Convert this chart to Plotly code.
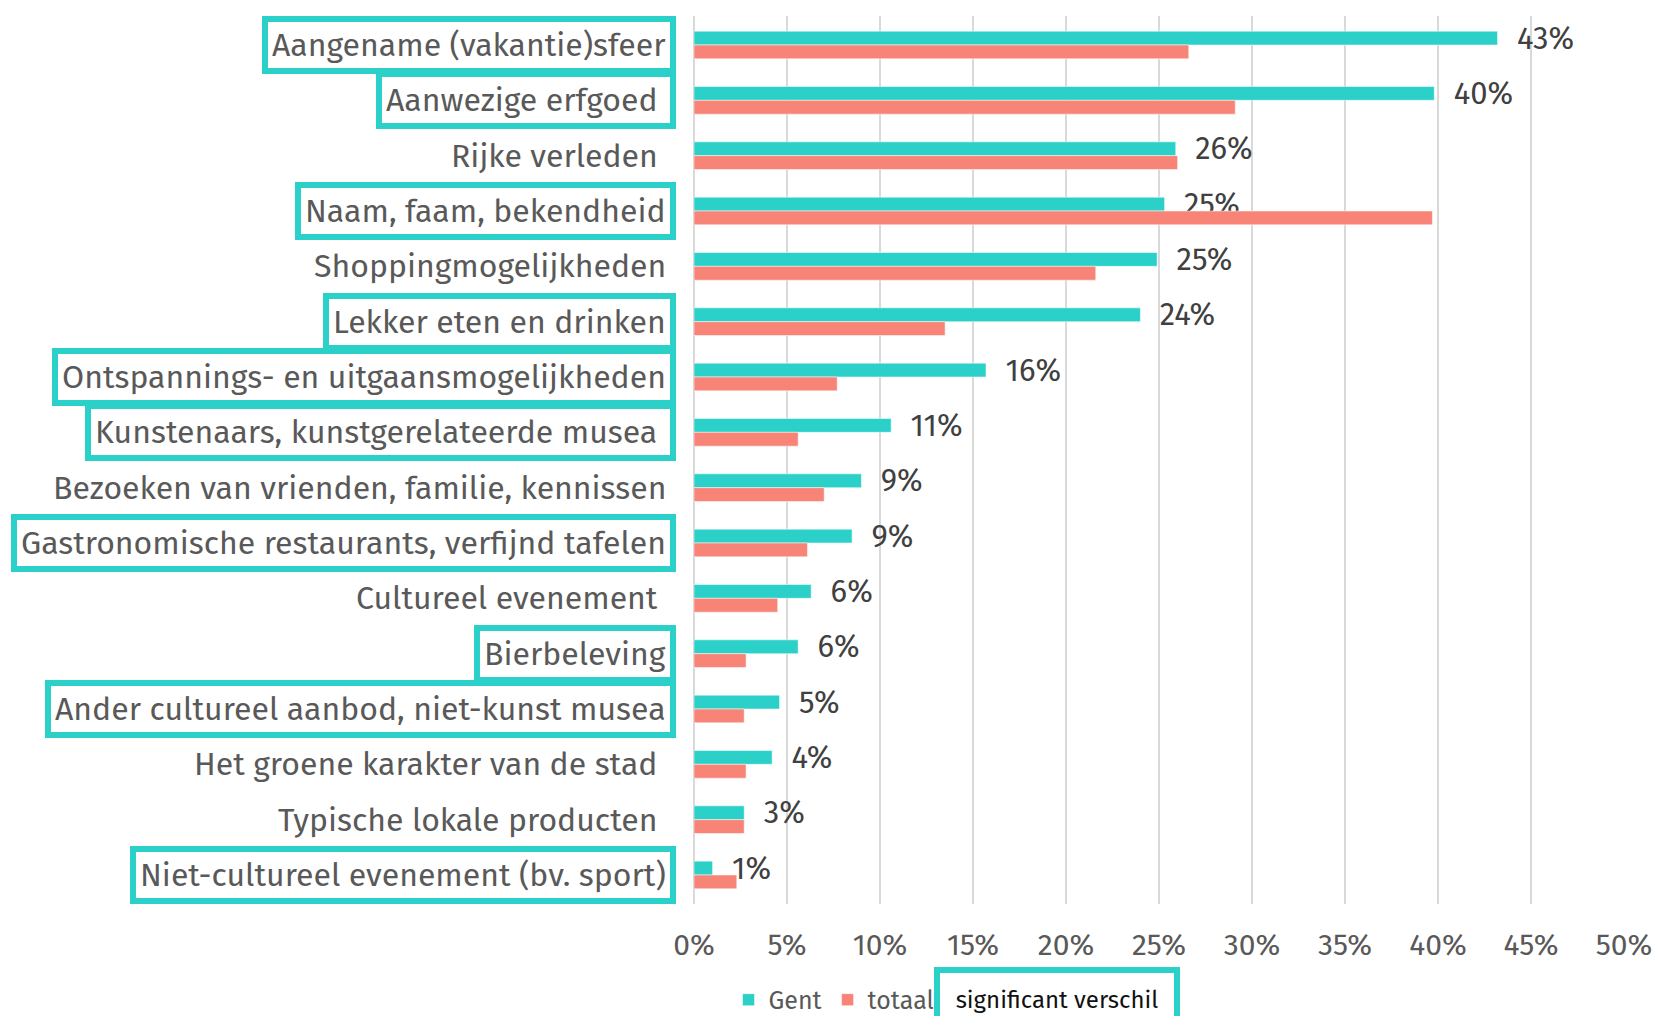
import plotly.graph_objects as go

categories = [
    "Aangename (vakantie)sfeer",
    "Aanwezige erfgoed\u00a0",
    "Rijke verleden\u00a0",
    "Naam, faam, bekendheid",
    "Shoppingmogelijkheden",
    "Lekker eten en drinken",
    "Ontspannings- en uitgaansmogelijkheden",
    "Kunstenaars, kunstgerelateerde musea\u00a0",
    "Bezoeken van vrienden, familie, kennissen",
    "Gastronomische restaurants, verfijnd tafelen",
    "Cultureel evenement\u00a0",
    "Bierbeleving",
    "Ander cultureel aanbod, niet-kunst musea",
    "Het groene karakter van de stad\u00a0",
    "Typische lokale producten\u00a0",
    "Niet-cultureel evenement (bv. sport)",
]
gent = [43.2, 39.8, 25.9, 25.3, 24.9, 24.0, 15.7, 10.6, 9.0, 8.5, 6.3, 5.6, 4.6, 4.2, 2.7, 1.0]
totaal = [26.6, 29.1, 26.0, 39.7, 21.6, 13.5, 7.7, 5.6, 7.0, 6.1, 4.5, 2.8, 2.7, 2.8, 2.7, 2.3]
significant = [True, True, False, True, False, True, True, True, False, True, False, True, True, False, False, True]
x_ticks = [0, 5, 10, 15, 20, 25, 30, 35, 40, 45, 50]
x_tick_labels = ["0%", "5%", "10%", "15%", "20%", "25%", "30%", "35%", "40%", "45%", "50%"]

TEAL = "#2BD1C9"
SALMON = "#F88477"
GRAY = "#595959"
FONT = "Fira Sans, Open Sans, sans-serif"

fig = go.Figure()
fig.add_trace(go.Bar(
    name="Gent", y=categories, x=gent, orientation="h",
    marker=dict(color=TEAL, line=dict(color="rgba(255,255,255,0.5)", width=1)),
    texttemplate="\u00a0\u00a0%{x:.0f}%", textposition="outside",
    textfont=dict(size=31, color="#404040", family=FONT),
    constraintext="none", cliponaxis=False,
))
fig.add_trace(go.Bar(
    name="totaal", y=categories, x=totaal, orientation="h",
    marker=dict(color=SALMON, line=dict(color="rgba(255,255,255,0.5)", width=1)),
))

annotations = []
for cat, sig in zip(categories, significant):
    annotations.append(dict(
        xref="paper", yref="y", x=0, y=cat, xanchor="right", yanchor="middle",
        xshift=-18, text=cat, showarrow=False,
        font=dict(size=32, color=GRAY, family=FONT),
        bordercolor=TEAL if sig else "rgba(0,0,0,0)",
        borderwidth=6, borderpad=4, bgcolor="white" if sig else "rgba(0,0,0,0)",
    ))
annotations.append(dict(
    xref="paper", yref="paper", x=0.258, y=-0.108, xanchor="left", yanchor="middle",
    text="significant verschil", showarrow=False, width=220, height=40, align="center",
    font=dict(size=24, color="#111111", family=FONT),
    bordercolor=TEAL, borderwidth=6, borderpad=7, bgcolor="white",
))

fig.update_layout(
    width=1657, height=1016,
    margin=dict(l=694, r=33, t=16, b=112, autoexpand=False),
    paper_bgcolor="white", plot_bgcolor="white",
    barmode="group", bargap=0.5, bargroupgap=0,
    font=dict(family=FONT, color=GRAY),
    showlegend=True,
    legend=dict(orientation="h", x=0.264, xanchor="right", y=-0.108, yanchor="middle",
                font=dict(size=25, color=GRAY, family=FONT), itemwidth=30,
                traceorder="normal", bgcolor="rgba(0,0,0,0)"),
    annotations=annotations,
)
fig.update_xaxes(range=[0, 50], tickmode="array", tickvals=x_ticks, ticktext=x_tick_labels,
                 showgrid=True, gridcolor="#D9D9D9", gridwidth=1.5,
                 zeroline=True, zerolinecolor="#D9D9D9", zerolinewidth=1.5,
                 showline=False, ticks="", ticklabelstandoff=20,
                 tickfont=dict(size=30, color=GRAY, family=FONT), fixedrange=True)
fig.update_yaxes(autorange="reversed", showticklabels=False, showgrid=False,
                 showline=False, ticks="", fixedrange=True)

fig.write_html(
    "out.html",
    config={"displayModeBar": False},
    post_script="document.body.style.margin='0px';document.body.style.overflow='hidden';",
)
